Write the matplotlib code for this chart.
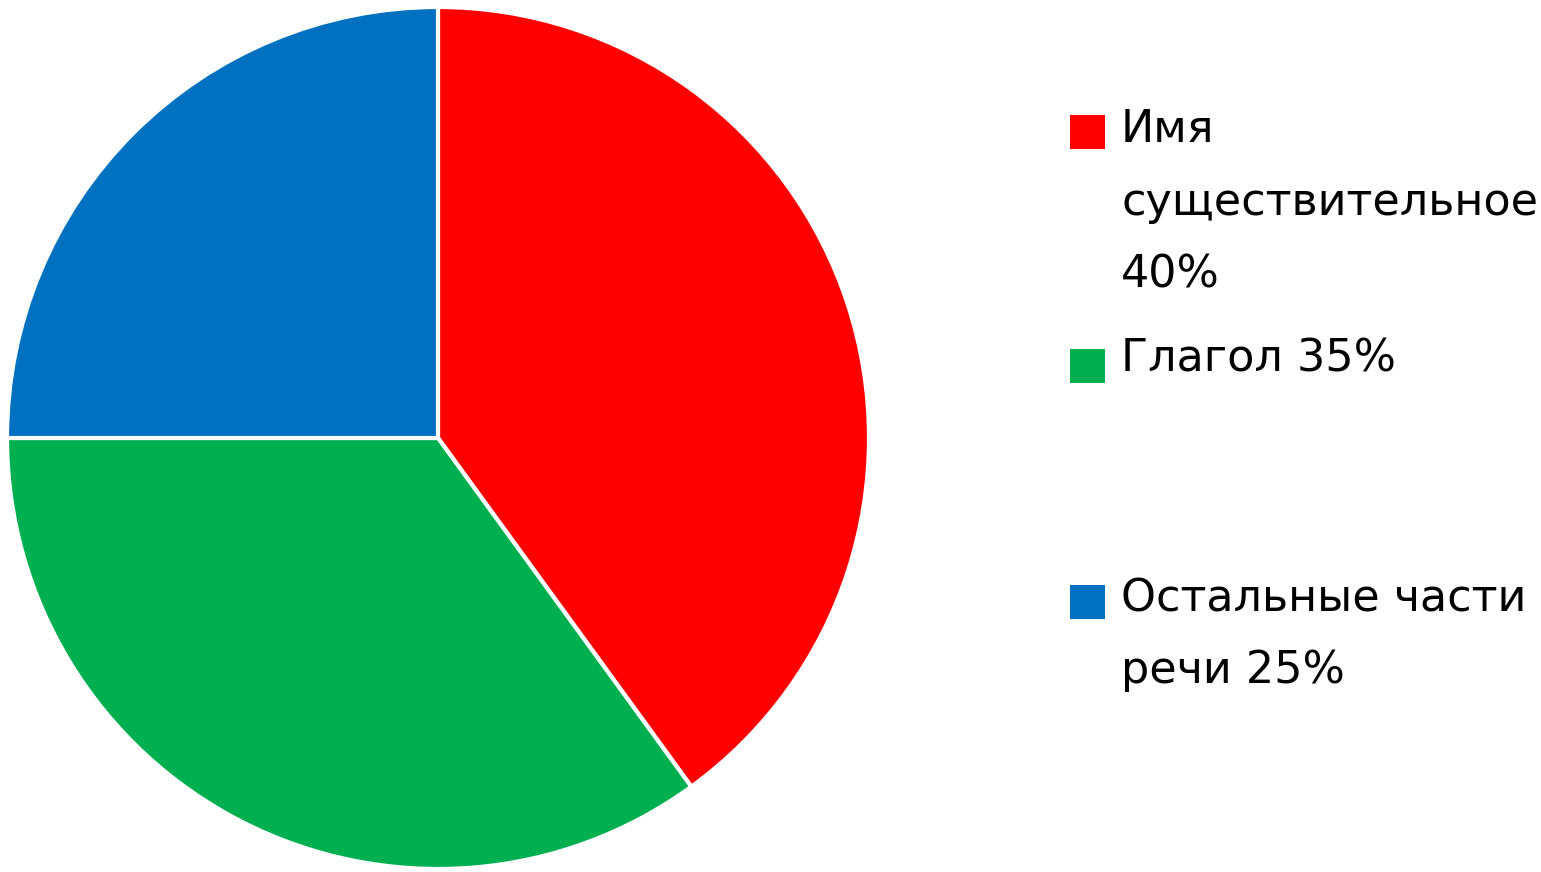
import matplotlib
matplotlib.use("Agg")
import matplotlib.pyplot as plt
from matplotlib.patches import Rectangle

categories = ["Имя существительное", "Глагол", "Остальные части речи"]
values = [40, 35, 25]
colors = ["#FF0000", "#00B050", "#0070C0"]
legend_lines = [["Имя", "существительное", "40%"], ["Глагол 35%"], ["Остальные части", "речи 25%"]]

W, H = 1541, 872
fig = plt.figure(figsize=(W / 100, H / 100), dpi=100)
fig.patch.set_facecolor("white")

cx, cy, r = 438, 438, 431
ax = fig.add_axes([(cx - r) / W, 1 - (cy + r) / H, 2 * r / W, 2 * r / H])
ax.pie(values, colors=colors, startangle=90, counterclock=False,
       wedgeprops=dict(edgecolor="white", linewidth=3))
ax.set_aspect("equal")
ax.set_xlim(-1, 1)
ax.set_ylim(-1, 1)
ax.axis("off")

fs = 32
line_h = 72.5
baselines = [142, 371, 611]
square_tops = [115, 349, 585]
for lines, color, b0, st in zip(legend_lines, colors, baselines, square_tops):
    fig.patches.append(Rectangle((1070 / W, 1 - (st + 34) / H), 35 / W, 34 / H,
                                 transform=fig.transFigure, facecolor=color, edgecolor="none"))
    for i, t in enumerate(lines):
        fig.text(1121 / W, 1 - (b0 + i * line_h) / H, t, fontsize=fs,
                 family="DejaVu Sans", va="baseline", ha="left", color="black")

fig.savefig("out.png", dpi=100)
